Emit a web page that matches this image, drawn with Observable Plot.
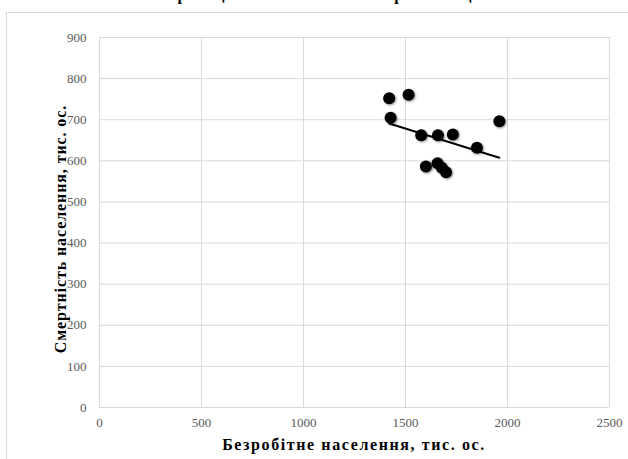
<!DOCTYPE html>
<html>
<head>
<meta charset="utf-8">
<script src="https://cdn.jsdelivr.net/npm/d3@7"></script>
<script src="https://cdn.jsdelivr.net/npm/@observablehq/plot@0.6"></script>
<style>
  html, body { margin: 0; padding: 0; background: #fff; overflow: hidden; }
  #wrap { position: relative; width: 628px; height: 459px; overflow: hidden; font-family: "Liberation Serif", "DejaVu Serif", "Times New Roman", Times, "Nimbus Roman", "FreeSerif", "Noto Serif", serif; }
  #box { position: absolute; left: 6px; top: 12px; width: 660px; height: 480px; border: 1px solid #d9d9d9; box-sizing: border-box; }
  #title { position: absolute; left: 0; width: 640px; text-align: center; top: -14px; font-weight: bold; font-size: 16px; color: #000; white-space: nowrap; letter-spacing: 1px; }
  #chart { position: absolute; left: 0; top: 0; }
  #xlabel { position: absolute; left: 99px; width: 510px; text-align: center; top: 436px; font-weight: bold; font-size: 16px; letter-spacing: 1.6px; color: #000; }
  #ylabel { position: absolute; left: 61px; top: 229px; transform: translate(-50%, -50%) rotate(-90deg); font-weight: bold; font-size: 16px; letter-spacing: 0.9px; color: #000; white-space: nowrap; }
  #chart svg text { font-family: "Liberation Serif", "DejaVu Serif", "Times New Roman", Times, "Nimbus Roman", "FreeSerif", "Noto Serif", serif; }
</style>
</head>
<body>
<div id="wrap">
  <div id="box"></div>
  <div id="title"></div>
  <div id="chart"></div>
  <div id="xlabel"></div>
  <div id="ylabel"></div>
</div>
<script>
const titleText = "Кореляційне поле та лінія апроксимації";
const xTitle = "Безробітне населення, тис. ос.";
const yTitle = "Смертність населення, тис. ос.";

const unemployed = [1420, 1515, 1427, 1577, 1659, 1732, 1850, 1960, 1600, 1657, 1678, 1699];
const mortality  = [752, 761, 705, 662, 662, 664, 632, 696, 586, 594, 583, 572];

const xTicks = [0, 500, 1000, 1500, 2000, 2500];
const yTicks = [0, 100, 200, 300, 400, 500, 600, 700, 800, 900];

const data = unemployed.map((u, i) => ({x: u, y: mortality[i]}));

document.getElementById("title").textContent = titleText;
document.getElementById("xlabel").textContent = xTitle;
document.getElementById("ylabel").textContent = yTitle;

const chart = Plot.plot({
  width: 628,
  height: 459,
  marginLeft: 99,
  marginRight: 19,
  marginTop: 37,
  marginBottom: 52,
  style: {fontSize: "13px", color: "#595959", background: "transparent", overflow: "visible"},
  x: {domain: [0, 2500], label: null},
  y: {domain: [0, 900], label: null},
  marks: [
    Plot.gridX(xTicks, {stroke: "#d9d9d9", strokeOpacity: 1, strokeWidth: 1}),
    Plot.gridY(yTicks, {stroke: "#d9d9d9", strokeOpacity: 1, strokeWidth: 1}),
    Plot.axisX(xTicks, {tickSize: 0, tickPadding: 10, label: null, fill: "#595959", tickFormat: d => String(d)}),
    Plot.axisY(yTicks, {tickSize: 0, tickPadding: 13, label: null, fill: "#595959", tickFormat: d => String(d)}),
    Plot.linearRegressionY(data, {x: "x", y: "y", ci: 0, stroke: "#000", strokeWidth: 2}),
    Plot.dot(data, {x: "x", y: "y", r: 6, fill: "#000", stroke: "none"})
  ]
});
document.getElementById("chart").appendChild(chart);
chart.querySelectorAll('g[aria-label="dot"]').forEach(g => {
  g.style.filter = "drop-shadow(1px 1px 1.2px rgba(0,0,0,0.45))";
});
</script>
</body>
</html>
